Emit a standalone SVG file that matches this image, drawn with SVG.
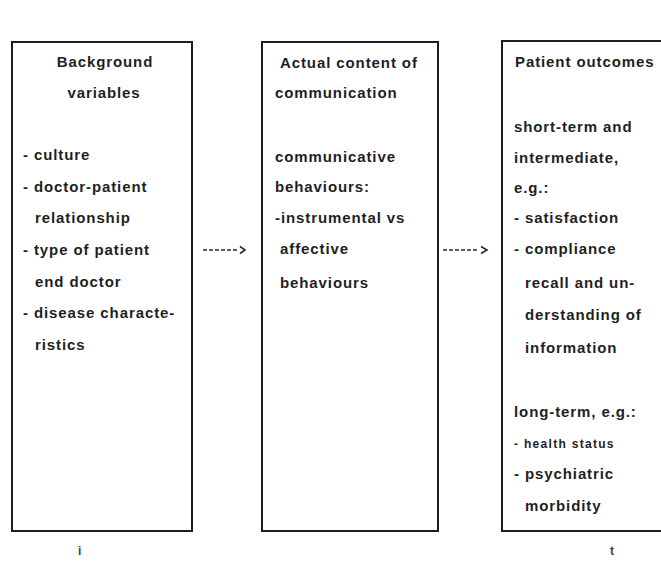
<svg xmlns="http://www.w3.org/2000/svg" width="661" height="563" viewBox="0 0 661 563">
<defs>
<style>
.box{fill:#fff;stroke:#1e1e1e;stroke-width:2}
.t{font-family:"Liberation Sans",Arial,sans-serif;font-size:15px;font-weight:bold;fill:#1f1f1f;letter-spacing:0.9px}
.c{text-anchor:middle}
.conn{stroke:#2a2a2a;stroke-width:1.6;fill:none}
.dash{stroke-dasharray:4 2}
.mark{font-family:"Liberation Sans",Arial,sans-serif;font-size:12px;font-weight:bold;fill:#444}
</style>
</defs>
<rect width="661" height="563" fill="#fff"/>
<g id="connectors">
<path class="conn dash" d="M203 250 H238"/>
<path class="conn" d="M240 246.5 L245 250 L240 253.5"/>
<path class="conn dash" d="M443 250 H479"/>
<path class="conn" d="M481 246.5 L487 250 L481 253.5"/>
</g>
<g id="background">
<rect class="box" x="12" y="42" width="180" height="489"/>
<text class="t c" x="105" y="67">Background</text>
<text class="t c" x="104" y="98">variables</text>
<text class="t" x="23" y="160">- culture</text>
<text class="t" x="23" y="192">- doctor-patient</text>
<text class="t" x="35" y="223">relationship</text>
<text class="t" x="23" y="255">- type of patient</text>
<text class="t" x="35" y="287">end doctor</text>
<text class="t" x="23" y="318">- disease characte-</text>
<text class="t" x="35" y="350">ristics</text>
</g>
<g id="content">
<rect class="box" x="262" y="42" width="176" height="489"/>
<text class="t" x="280" y="68">Actual content of</text>
<text class="t" x="275" y="98">communication</text>
<text class="t" x="275" y="162">communicative</text>
<text class="t" x="275" y="192">behaviours:</text>
<text class="t" x="275" y="223">-instrumental vs</text>
<text class="t" x="280" y="254">affective</text>
<text class="t" x="280" y="288">behaviours</text>
</g>
<g id="outcomes">
<path class="box" d="M672 41 H502 V531 H672"/>
<text class="t" x="515" y="67">Patient outcomes</text>
<text class="t" x="514" y="132">short-term and</text>
<text class="t" x="514" y="163">intermediate,</text>
<text class="t" x="514" y="193">e.g.:</text>
<text class="t" x="514" y="223">- satisfaction</text>
<text class="t" x="514" y="254">- compliance</text>
<text class="t" x="525" y="288">recall and un-</text>
<text class="t" x="525" y="320">derstanding of</text>
<text class="t" x="525" y="353">information</text>
<text class="t" x="514" y="417">long-term, e.g.:</text>
<text class="t" x="514" y="448" style="font-size:12px;letter-spacing:1.3px">- health status</text>
<text class="t" x="514" y="479">- psychiatric</text>
<text class="t" x="525" y="511">morbidity</text>
</g>
<text class="mark" x="78" y="555">i</text>
<text class="mark" x="610" y="555">t</text>
</svg>
